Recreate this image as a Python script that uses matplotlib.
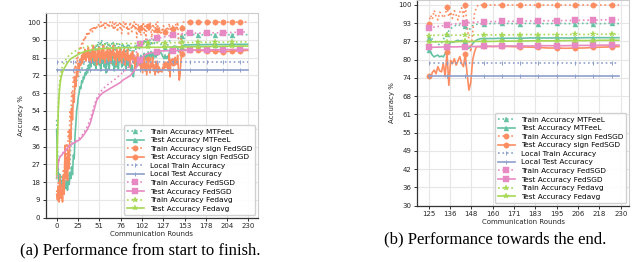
import numpy as np
import matplotlib
matplotlib.use("Agg")
import matplotlib.pyplot as plt

# ---------------- data ----------------
rounds_dense = list(range(156)) + list(range(160, 230, 5)) + [229]
rounds_smooth = [0, 1, 2, 3, 4, 5, 6] + list(range(8, 21, 2)) + list(range(24, 97, 4)) + list(range(100, 230, 5)) + [229]
rounds_local = list(range(0, 230, 5)) + [229]

mtfeel_train = [
    50, 32, 25, 20, 23, 18, 21, 17, 20, 16,
    19, 17, 21, 16, 22, 19, 28, 38, 50, 57,
    61, 63, 66, 68, 70, 71, 72, 73, 74, 75,
    76, 77, 78, 79, 80, 80.5, 82, 82.5, 83, 84,
    85, 84, 86, 85, 87, 86, 88, 85, 89, 87,
    90, 86, 89, 88, 91, 87, 89, 86, 90, 88,
    87, 90, 86, 89, 88, 85, 89, 87, 90, 86,
    88, 85, 89, 87, 86, 89, 88, 85, 88, 87,
    89, 86, 88, 84, 87, 89, 86, 88, 85, 87,
    86, 84, 83, 86, 88, 86, 89, 87, 88, 86,
    88, 89, 87, 90, 88, 91, 89, 90, 88, 91,
    90, 89, 91, 90, 88, 90, 91, 89, 90, 91,
    89, 90, 91, 90, 89, 88.5, 89, 88, 87.7, 87,
    86.5, 86, 86.8, 88, 89, 90, 91, 91.8, 92.2, 92.6,
    93, 92.8, 93, 92.7, 92.6, 92.6, 91.5, 91.2, 92, 92.8,
    93, 93.2, 93.3, 93.4, 93.5, 93.5,
    93.5, 93.6, 93.5, 93.5, 93.6, 93.5, 93.5, 93.6, 93.5, 93.5, 93.6, 93.5, 93.5, 93.6, 93.5,
]
mtfeel_test = [
    45, 28, 22, 18, 21, 16, 19, 15, 18, 14,
    17, 15, 19, 14, 20, 17, 23, 20, 26, 22,
    32, 30, 42, 48, 55, 58, 62, 64, 67, 66,
    70, 69, 72, 71, 74, 73, 76, 74, 78, 76,
    80, 77, 82, 79, 84, 78, 81, 76, 83, 79,
    85, 78, 80, 75, 82, 79, 84, 77, 81, 74,
    80, 83, 78, 76, 82, 79, 85, 78, 80, 75,
    81, 77, 83, 79, 76, 82, 80, 84, 77, 81,
    78, 83, 79, 76, 81, 78, 82, 77, 80, 75,
    78, 74, 72, 76, 79, 77, 81, 78, 82, 79,
    81, 83, 79, 82, 80, 84, 81, 83, 80, 82,
    84, 81, 83, 85, 82, 84, 81, 83, 85, 82,
    84, 83, 85, 84, 85, 84.2, 83.6, 82.5, 81.9, 82.3,
    82.5, 81.9, 82.2, 81.9, 83, 84.2, 85.8, 87.1, 87, 87.1,
    87.5, 87.7, 87.4, 87.6, 87.2, 87.4, 84.8, 85, 85.4, 86.5,
    87.2, 87.7, 88, 88.2, 88.3, 88.3,
    88.3, 88.4, 88.4, 88.4, 88.5, 88.5, 88.5, 88.5, 88.5, 88.5, 88.6, 88.6, 88.6, 88.6, 88.6,
]
sign_train = [
    14, 10, 18, 12, 22, 11, 17, 10, 24, 16,
    35, 26, 38, 30, 45, 40, 55, 50, 64, 62,
    72, 70, 78, 76, 82, 80, 85, 84, 87, 86,
    89, 88, 91, 90, 93, 92, 94, 93, 95, 94,
    96, 95, 97, 95, 97, 96, 98, 96, 97, 98,
    99, 97, 98, 100, 97, 99, 98, 100, 96, 99,
    100, 98, 99, 97, 100, 99, 98, 100, 96, 99,
    97, 100, 98, 95, 99, 100, 97, 99, 94, 98,
    100, 97, 99, 100, 96, 98, 93, 97, 100, 98,
    95, 99, 97, 100, 96, 99, 92, 97, 99, 95,
    97, 93, 99, 96, 100, 94, 98, 91, 97, 99,
    98, 95, 100, 96, 92, 98, 99, 94, 97, 99,
    96, 100, 93, 97, 95, 93.5, 96.4, 95, 98.1, 96,
    94.8, 97.5, 97, 95.5, 96.5, 99.3, 95.9, 97.6, 95.3, 98,
    96.5, 94.8, 97.5, 99, 96, 100, 92.5, 87.7, 83.6, 90,
    97, 99, 100, 100, 100, 100,
    100, 100, 100, 100, 100, 100, 100, 100, 100, 100, 100, 100, 100, 100, 100,
]
sign_test = [
    12, 9, 16, 8, 19, 10, 14, 8, 21, 12,
    37, 20, 31, 19, 34, 25, 45, 40, 56, 50,
    63, 59, 72, 67, 76, 72, 79, 75, 81, 78,
    83, 79, 84, 81, 86, 80, 85, 82, 87, 80,
    84, 79, 86, 82, 88, 80, 85, 83, 78, 86,
    82, 87, 79, 84, 86, 81, 88, 83, 79, 85,
    82, 87, 80, 84, 86, 79, 85, 83, 88, 81,
    84, 78, 86, 82, 85, 80, 87, 83, 79, 85,
    82, 86, 78, 84, 81, 86, 80, 83, 77, 84,
    81, 85, 79, 83, 76, 82, 80, 84, 78, 81,
    79, 76, 81, 74, 78, 82, 75, 79, 73, 77,
    81, 76, 74, 79, 77, 82, 75, 78, 73, 80,
    76, 79, 74, 77, 75, 75.2, 74.4, 76.5, 77.3, 76,
    78.5, 77, 76.7, 79.6, 75, 83.6, 72, 80.7, 79.5, 81.3,
    79, 80.5, 82, 79.6, 78.5, 83, 76, 70.3, 73, 80.7,
    83.5, 85.4, 85.5, 85.4, 85.5, 85.6,
    85.5, 85.6, 85.5, 85.4, 85.3, 85.2, 85.0, 85.0, 84.9, 85.0, 85.0, 85.2, 85.3, 85.4, 85.5,
]
local_train = [79.6] * 47
local_test = [75.3] * 47
fedsgd_train = [
    20, 25, 28, 30, 31, 32, 32.5,
    33.5, 34.5, 35.5, 36.5, 37.5, 38, 38.5,
    39.5, 41, 43, 46, 50, 56, 61, 64, 66, 67.5, 69, 70, 71.5, 73, 74.5, 76, 78, 81, 85,
    89, 90.5, 91.2, 91.5, 91.8, 92, 92.5, 93, 93.4, 93.8, 94, 94.2,
    94.2, 94.3, 94.3, 94.4, 94.4, 94.5, 94.5, 94.5, 94.6, 94.6, 94.7, 94.7, 94.8, 94.9,
    94.9,
]
fedsgd_test = [
    20, 25, 28, 30, 31, 31.5, 32,
    33, 34, 35, 36, 37, 37.5, 38,
    39, 40, 42, 44.5, 48, 54, 60, 62.5, 64, 65, 66, 67, 68, 69, 70.5, 71.5, 72.5, 74.5, 77,
    80.5, 83, 84, 84.4, 84.7, 85.2, 85.3, 85.4, 85.4, 85.5, 85.5, 85.6,
    85.6, 85.6, 85.7, 85.7, 85.7, 85.8, 85.8, 85.8, 85.8, 85.9, 85.9, 85.9, 86.0, 86.0,
    86.0,
]
fedavg_train = [
    20, 45, 60, 67, 71, 74, 76,
    78.5, 80, 81.5, 82.5, 83.5, 84, 84.8,
    85.5, 86.5, 86.8, 87.5, 87.6, 88.2, 88, 88.5, 88.3, 88.7, 88.5, 88.9, 88.6, 89, 88.8, 89.1, 88.9, 89.2, 89,
    89.3, 89.1, 89.4, 89.2, 89.4, 89.3, 89.5, 89.4, 89.5, 89.4, 89.6, 89.5,
    89.6, 89.5, 89.6, 89.6, 89.7, 89.6, 89.7, 89.7, 89.7, 89.8, 89.7, 89.8, 89.8, 89.8,
    89.8,
]
fedavg_test = [
    22, 40, 55, 63, 68, 71, 73,
    75.5, 77, 78.5, 79.8, 80.8, 81.5, 82,
    83, 84, 84.6, 85.2, 85.6, 85.9, 86.1, 86.3, 86.4, 86.5, 86.6, 86.7, 86.8, 86.8, 86.9, 86.9, 87, 87, 87,
    87, 87, 87.1, 87.1, 87.1, 87.1, 87.2, 87.2, 87.2, 87.3, 87.3, 87.3,
    87.3, 87.4, 87.4, 87.4, 87.5, 87.5, 87.5, 87.5, 87.6, 87.6, 87.6, 87.6, 87.7, 87.7,
    87.7,
]

labels = ["Train Accuracy MTFeeL", "Test Accuracy MTFeeL",
          "Train Accuracy sign FedSGD", "Test Accuracy sign FedSGD",
          "Local Train Accuracy", "Local Test Accuracy",
          "Train Accuracy FedSGD", "Test Accuracy FedSGD",
          "Train Accuracy Fedavg", "Test Accuracy Fedavg"]

left_yticklabels = ["0", "9", "18", "27", "36", "45", "54", "63", "72", "81", "90", "100"]
left_xticklabels = ["0", "25", "51", "76", "102", "127", "153", "178", "204", "230"]
right_yticklabels = ["30", "36", "42", "49", "55", "61", "68", "74", "80", "87", "93", "100"]
right_xticklabels = ["125", "136", "148", "160", "171", "183", "195", "206", "218", "230"]

# ---------------- style ----------------
C_TEAL, C_ORANGE, C_BLUE, C_PINK, C_GREEN = "#66c2a5", "#fc8d62", "#8da0cb", "#e78ac3", "#a6d854"
series = [
    (rounds_dense, mtfeel_train, C_TEAL, ":", "^", 3.6),
    (rounds_dense, mtfeel_test, C_TEAL, "-", "^", 3.6),
    (rounds_dense, sign_train, C_ORANGE, ":", "o", 3.9),
    (rounds_dense, sign_test, C_ORANGE, "-", "o", 3.9),
    (rounds_local, local_train, C_BLUE, ":", "|", 2.5),
    (rounds_local, local_test, C_BLUE, "-", "|", 2.5),
    (rounds_smooth, fedsgd_train, C_PINK, ":", "s", 3.7),
    (rounds_smooth, fedsgd_test, C_PINK, "-", "s", 3.7),
    (rounds_smooth, fedavg_train, C_GREEN, ":", "*", 4.3),
    (rounds_smooth, fedavg_test, C_GREEN, "-", "*", 4.3),
]
left_marks = [set(range(110, 230, 20)), set(range(110, 230, 20)),
              set(range(100, 230, 10)), set(range(100, 230, 10)),
              set(range(0, 230, 20)), set(range(0, 230, 20)),
              set(range(100, 230, 20)), set(range(100, 230, 20)),
              set(range(110, 230, 20)), set(range(110, 230, 20))]
right_marks = set(range(125, 230, 10))

plt.rcParams["font.family"] = ["DejaVu Sans"]
FS = 5.0
fig = plt.figure(figsize=(6.4, 2.62), dpi=100)
W, H = 640.0, 262.0
ax1 = fig.add_axes([46 / W, 1 - 217.7 / H, 212 / W, 204.7 / H])
ax2 = fig.add_axes([417 / W, 1 - 205.7 / H, 212 / W, 205.3 / H])


def style_axes(ax):
    ax.set_facecolor("white")
    ax.grid(True, color="#e6e6e6", lw=0.8)
    ax.set_axisbelow(True)
    for s in ["top", "right"]:
        ax.spines[s].set_color("#cccccc")
        ax.spines[s].set_linewidth(0.8)
    for s in ["left", "bottom"]:
        ax.spines[s].set_color("#333333")
        ax.spines[s].set_linewidth(0.9)
    ax.tick_params(axis="both", labelsize=FS, length=2.5, width=0.7, pad=1.5,
                   colors="#333333", labelcolor="#262626")


for ax, rmin, marks in [(ax1, 0, None), (ax2, 125, right_marks)]:
    for i, (xs, ys, col, ls, mk, ms) in enumerate(series):
        xs_a = np.array(xs)
        ys_a = np.array(ys, dtype=float)
        sel = xs_a >= rmin
        xs_a, ys_a = xs_a[sel], ys_a[sel]
        mset = left_marks[i] if marks is None else marks
        me = [j for j, r in enumerate(xs_a) if r in mset]
        ax.plot(xs_a, ys_a, color=col, ls=ls, lw=1.2, marker=mk, ms=ms,
                markevery=me, markeredgewidth=0.7 if mk == "|" else 0.3,
                markeredgecolor=col, label=labels[i])
    style_axes(ax)
    ax.set_xlabel("Communication Rounds", fontsize=FS, labelpad=1, color="#262626")
    ax.set_ylabel("Accuracy %", fontsize=FS, labelpad=2, color="#262626")
    ax.legend(loc="lower right", fontsize=5.3, labelspacing=0.33, handlelength=2.3,
              handletextpad=0.8, borderpad=0.4, borderaxespad=0.4,
              frameon=True, edgecolor="#cccccc", framealpha=0.9, fancybox=True)

ax1.set_xlim(-12.8, 241.4)
ax1.set_ylim(0, 104.6)
ax1.set_xticks(np.linspace(0, 230, 10))
ax1.set_xticklabels(left_xticklabels)
ax1.set_yticks(np.linspace(0, 100, 12))
ax1.set_yticklabels(left_yticklabels)

ax2.set_xlim(118.6, 234.5)
ax2.set_ylim(30, 101.6)
ax2.set_xticks(np.linspace(125, 230, 10))
ax2.set_xticklabels(right_xticklabels)
ax2.set_yticks(np.linspace(30, 100, 12))
ax2.set_yticklabels(right_yticklabels)

fig.text(140 / W, 1 - 250 / H, "(a) Performance from start to finish.",
         ha="center", va="center", family="Liberation Serif", fontsize=12)
fig.text(495 / W, 1 - 239 / H, "(b) Performance towards the end.",
         ha="center", va="center", family="Liberation Serif", fontsize=12)

fig.savefig("out.png", dpi=100)
